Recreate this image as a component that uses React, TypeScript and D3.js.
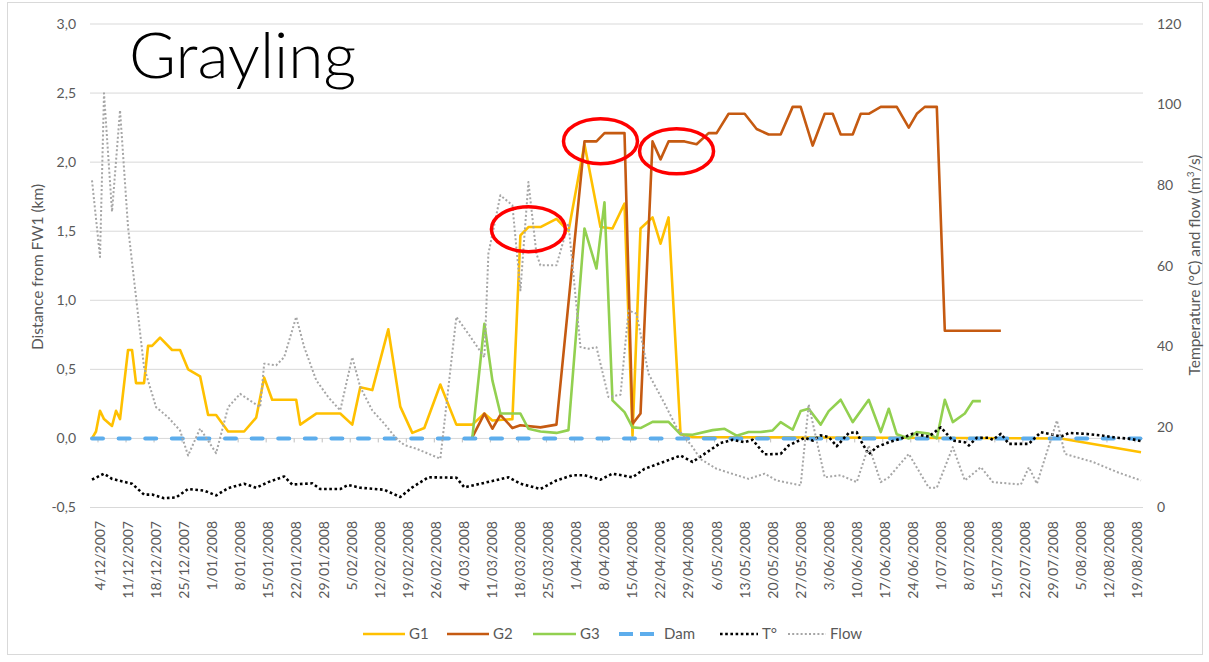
import React from "react";
import * as d3 from "d3";

// ---------- data ----------
type P = [string, number];

const G1: P[] = [
  ["2007-12-02", 0.0], ["2007-12-03", 0.05], ["2007-12-04", 0.2], ["2007-12-05", 0.14],
  ["2007-12-07", 0.09], ["2007-12-08", 0.2], ["2007-12-09", 0.14], ["2007-12-11", 0.64],
  ["2007-12-12", 0.64], ["2007-12-13", 0.4], ["2007-12-15", 0.4], ["2007-12-16", 0.67],
  ["2007-12-17", 0.67], ["2007-12-19", 0.73], ["2007-12-22", 0.64], ["2007-12-24", 0.64],
  ["2007-12-26", 0.5], ["2007-12-29", 0.45], ["2007-12-31", 0.17], ["2008-01-02", 0.17],
  ["2008-01-05", 0.05], ["2008-01-09", 0.05], ["2008-01-12", 0.15], ["2008-01-14", 0.44],
  ["2008-01-16", 0.28], ["2008-01-22", 0.28], ["2008-01-23", 0.1], ["2008-01-27", 0.18],
  ["2008-02-02", 0.18], ["2008-02-05", 0.1], ["2008-02-07", 0.37], ["2008-02-10", 0.35],
  ["2008-02-14", 0.79], ["2008-02-17", 0.23], ["2008-02-20", 0.04], ["2008-02-23", 0.075],
  ["2008-02-27", 0.39], ["2008-03-02", 0.1], ["2008-03-06", 0.1], ["2008-03-09", 0.18],
  ["2008-03-11", 0.13], ["2008-03-16", 0.14], ["2008-03-18", 1.47], ["2008-03-20", 1.53],
  ["2008-03-23", 1.53], ["2008-03-27", 1.59], ["2008-03-30", 1.5], ["2008-04-03", 2.13],
  ["2008-04-07", 1.53], ["2008-04-10", 1.52], ["2008-04-13", 1.7], ["2008-04-15", 0.02],
  ["2008-04-17", 1.52], ["2008-04-20", 1.6], ["2008-04-22", 1.41], ["2008-04-24", 1.6],
  ["2008-04-27", 0.03], ["2008-04-30", 0.01], ["2008-07-31", 0.0], ["2008-08-20", -0.1],
];

const G2: P[] = [
  ["2008-03-06", 0.01], ["2008-03-09", 0.18], ["2008-03-11", 0.07], ["2008-03-13", 0.17],
  ["2008-03-16", 0.075], ["2008-03-18", 0.095], ["2008-03-23", 0.08], ["2008-03-27", 0.1],
  ["2008-04-03", 2.15], ["2008-04-06", 2.15], ["2008-04-08", 2.21], ["2008-04-13", 2.21],
  ["2008-04-15", 0.105], ["2008-04-17", 0.18], ["2008-04-20", 2.15], ["2008-04-22", 2.02],
  ["2008-04-24", 2.15], ["2008-04-28", 2.15], ["2008-05-01", 2.13], ["2008-05-04", 2.21],
  ["2008-05-06", 2.21], ["2008-05-09", 2.35], ["2008-05-13", 2.35], ["2008-05-16", 2.24],
  ["2008-05-19", 2.2], ["2008-05-22", 2.2], ["2008-05-25", 2.4], ["2008-05-27", 2.4],
  ["2008-05-30", 2.12], ["2008-06-02", 2.35], ["2008-06-04", 2.35], ["2008-06-06", 2.2],
  ["2008-06-09", 2.2], ["2008-06-11", 2.35], ["2008-06-13", 2.35], ["2008-06-16", 2.4],
  ["2008-06-20", 2.4], ["2008-06-23", 2.25], ["2008-06-25", 2.35], ["2008-06-27", 2.4],
  ["2008-06-30", 2.4], ["2008-07-02", 0.78], ["2008-07-16", 0.78],
];

const G3: P[] = [
  ["2008-03-06", 0.01], ["2008-03-09", 0.83], ["2008-03-11", 0.42], ["2008-03-13", 0.18],
  ["2008-03-18", 0.18], ["2008-03-20", 0.07], ["2008-03-23", 0.05], ["2008-03-27", 0.04],
  ["2008-03-30", 0.06], ["2008-04-03", 1.52], ["2008-04-06", 1.23], ["2008-04-08", 1.71],
  ["2008-04-10", 0.275], ["2008-04-13", 0.19], ["2008-04-15", 0.08], ["2008-04-17", 0.075],
  ["2008-04-20", 0.12], ["2008-04-24", 0.12], ["2008-04-27", 0.03], ["2008-04-30", 0.027],
  ["2008-05-05", 0.06], ["2008-05-08", 0.07], ["2008-05-11", 0.02], ["2008-05-14", 0.046],
  ["2008-05-17", 0.046], ["2008-05-20", 0.058], ["2008-05-22", 0.118], ["2008-05-25", 0.063],
  ["2008-05-27", 0.198], ["2008-05-29", 0.215], ["2008-06-01", 0.1], ["2008-06-03", 0.198],
  ["2008-06-06", 0.28], ["2008-06-09", 0.118], ["2008-06-13", 0.28], ["2008-06-16", 0.046],
  ["2008-06-18", 0.215], ["2008-06-20", 0.03], ["2008-06-23", 0.0], ["2008-06-25", 0.046],
  ["2008-06-28", 0.035], ["2008-06-30", 0.0], ["2008-07-02", 0.28], ["2008-07-04", 0.118],
  ["2008-07-07", 0.18], ["2008-07-09", 0.27], ["2008-07-11", 0.27],
];

const DAM: P[] = [["2007-12-02", 0], ["2008-08-20", 0]];

const TEMP: P[] = [
  ["2007-12-02", 6.9], ["2007-12-05", 8.4], ["2007-12-07", 7.1], ["2007-12-12", 5.9],
  ["2007-12-15", 3.2], ["2007-12-17", 3.2], ["2007-12-20", 2.3], ["2007-12-23", 2.5],
  ["2007-12-26", 4.6], ["2007-12-30", 4.2], ["2008-01-02", 3.0], ["2008-01-05", 4.8],
  ["2008-01-09", 5.9], ["2008-01-12", 4.9], ["2008-01-15", 6.3], ["2008-01-19", 7.7],
  ["2008-01-21", 5.7], ["2008-01-26", 6.0], ["2008-01-28", 4.6], ["2008-02-02", 4.6],
  ["2008-02-04", 5.6], ["2008-02-07", 4.9], ["2008-02-13", 4.4], ["2008-02-17", 2.6],
  ["2008-02-20", 5.0], ["2008-02-24", 7.5], ["2008-03-02", 7.4], ["2008-03-04", 5.0],
  ["2008-03-08", 5.9], ["2008-03-15", 7.5], ["2008-03-18", 5.9], ["2008-03-23", 4.6],
  ["2008-03-27", 6.7], ["2008-03-31", 8.0], ["2008-04-03", 8.0], ["2008-04-07", 6.9],
  ["2008-04-10", 8.4], ["2008-04-15", 7.5], ["2008-04-18", 9.6], ["2008-04-23", 11.4],
  ["2008-04-27", 12.9], ["2008-04-30", 11.3], ["2008-05-04", 14.0], ["2008-05-07", 16.0],
  ["2008-05-10", 16.8], ["2008-05-13", 16.2], ["2008-05-15", 16.8], ["2008-05-18", 13.2],
  ["2008-05-22", 13.3], ["2008-05-24", 15.4], ["2008-05-28", 17.3], ["2008-05-30", 16.6],
  ["2008-06-01", 17.9], ["2008-06-03", 17.5], ["2008-06-05", 15.2], ["2008-06-08", 18.5],
  ["2008-06-10", 18.7], ["2008-06-11", 16.6], ["2008-06-13", 13.2], ["2008-06-15", 15.0],
  ["2008-06-18", 16.2], ["2008-06-21", 17.1], ["2008-06-24", 18.3], ["2008-06-28", 17.6],
  ["2008-07-01", 19.9], ["2008-07-04", 16.6], ["2008-07-07", 16.2], ["2008-07-08", 15.4],
  ["2008-07-10", 17.3], ["2008-07-13", 17.3], ["2008-07-14", 16.8], ["2008-07-16", 18.3],
  ["2008-07-18", 15.8], ["2008-07-23", 15.8], ["2008-07-24", 16.8], ["2008-07-26", 18.7],
  ["2008-07-28", 18.3], ["2008-07-31", 17.6], ["2008-08-02", 18.5], ["2008-08-06", 18.3],
  ["2008-08-10", 17.9], ["2008-08-14", 17.3], ["2008-08-17", 17.1], ["2008-08-20", 16.5],
];

const FLOW: P[] = [
  ["2007-12-02", 81.2], ["2007-12-04", 62.2], ["2007-12-05", 102.8], ["2007-12-07", 73.4],
  ["2007-12-09", 98.6], ["2007-12-11", 69.6], ["2007-12-13", 52.2], ["2007-12-15", 34.8],
  ["2007-12-18", 24.9], ["2007-12-21", 22.4], ["2007-12-24", 19.1], ["2007-12-26", 12.9],
  ["2007-12-29", 19.6], ["2008-01-02", 13.5], ["2008-01-05", 24.9], ["2008-01-08", 28.2],
  ["2008-01-11", 26.2], ["2008-01-13", 24.9], ["2008-01-14", 35.7], ["2008-01-17", 35.3],
  ["2008-01-19", 37.3], ["2008-01-22", 47.3], ["2008-01-24", 39.8], ["2008-01-27", 31.6],
  ["2008-01-30", 27.4], ["2008-02-02", 24.1], ["2008-02-05", 37.3], ["2008-02-07", 29.9],
  ["2008-02-10", 24.1], ["2008-02-13", 20.8], ["2008-02-16", 17.1], ["2008-02-18", 15.5],
  ["2008-02-21", 14.6], ["2008-02-27", 12.1], ["2008-03-02", 47.3], ["2008-03-05", 43.1],
  ["2008-03-09", 37.3], ["2008-03-10", 63.0], ["2008-03-13", 77.5], ["2008-03-16", 75.0],
  ["2008-03-18", 53.9], ["2008-03-20", 80.8], ["2008-03-22", 63.0], ["2008-03-23", 60.1],
  ["2008-03-27", 60.1], ["2008-03-30", 70.5], ["2008-04-02", 39.8], ["2008-04-04", 39.4],
  ["2008-04-06", 39.8], ["2008-04-09", 27.4], ["2008-04-12", 28.0], ["2008-04-14", 48.9],
  ["2008-04-16", 48.1], ["2008-04-19", 33.2], ["2008-04-23", 25.8], ["2008-04-26", 19.9],
  ["2008-04-30", 15.0], ["2008-05-02", 12.0], ["2008-05-06", 9.6], ["2008-05-14", 7.1],
  ["2008-05-18", 8.4], ["2008-05-21", 6.7], ["2008-05-27", 5.5], ["2008-05-29", 25.6],
  ["2008-06-02", 7.5], ["2008-06-06", 8.0], ["2008-06-10", 6.3], ["2008-06-13", 15.4],
  ["2008-06-16", 6.3], ["2008-06-18", 7.5], ["2008-06-23", 13.3], ["2008-06-28", 4.9],
  ["2008-06-30", 4.9], ["2008-07-04", 15.0], ["2008-07-07", 6.7], ["2008-07-11", 10.0],
  ["2008-07-14", 6.3], ["2008-07-21", 5.7], ["2008-07-23", 10.0], ["2008-07-25", 5.9],
  ["2008-07-30", 21.6], ["2008-08-01", 13.3], ["2008-08-08", 11.3], ["2008-08-14", 8.8],
  ["2008-08-20", 6.7],
];

const X_TICKS = [
  "4/12/2007", "11/12/2007", "18/12/2007", "25/12/2007", "1/01/2008", "8/01/2008",
  "15/01/2008", "22/01/2008", "29/01/2008", "5/02/2008", "12/02/2008", "19/02/2008",
  "26/02/2008", "4/03/2008", "11/03/2008", "18/03/2008", "25/03/2008", "1/04/2008",
  "8/04/2008", "15/04/2008", "22/04/2008", "29/04/2008", "6/05/2008", "13/05/2008",
  "20/05/2008", "27/05/2008", "3/06/2008", "10/06/2008", "17/06/2008", "24/06/2008",
  "1/07/2008", "8/07/2008", "15/07/2008", "22/07/2008", "29/07/2008", "5/08/2008",
  "12/08/2008", "19/08/2008",
];
const LEFT_TICKS = [-0.5, 0, 0.5, 1, 1.5, 2, 2.5, 3];
const RIGHT_TICKS = [0, 20, 40, 60, 80, 100, 120];

// annotation ellipses: [date, distance]
const CIRCLES: P[] = [["2008-03-20", 1.515], ["2008-04-07", 2.152], ["2008-04-26", 2.079]];

const LEGEND = ["G1", "G2", "G3", "Dam", "T°", "Flow"];

// ---------- drawing ----------
const FONT = "Lato, 'Open Sans', sans-serif";
const GRAY_TXT = "#595959";
const parseIso = d3.timeParse("%Y-%m-%d");
const parseTick = d3.timeParse("%d/%m/%Y");
const locale = d3.formatLocale({ decimal: ",", thousands: ".", grouping: [3], currency: ["", ""], minus: "-" });
const fmtL = locale.format(".1f");

type Style = { color: string; width: number; dash?: string; cap?: "butt" | "round" };
const STYLES: Record<string, Style> = {
  G1: { color: "#FFC000", width: 2.6 },
  G2: { color: "#C55A11", width: 2.6 },
  G3: { color: "#92D050", width: 2.6 },
  Dam: { color: "#5DADEC", width: 4, dash: "11 15.6", cap: "round" },
  "T°": { color: "#000000", width: 2.6, dash: "2.6 2.6" },
  Flow: { color: "#A6A6A6", width: 2, dash: "2 2.2" },
};

export default function App() {
  React.useEffect(() => {
    document.body.style.margin = "0";
  }, []);

  const x = d3.scaleTime()
    .domain([new Date(2007, 11, 1, 12), new Date(2008, 7, 20, 12)])
    .range([90, 1143]);
  const yL = d3.scaleLinear().domain([-0.5, 3]).range([507.5, 24]);
  const yR = d3.scaleLinear().domain([0, 120]).range([507.5, 24]);

  const mk = (y: d3.ScaleLinear<number, number>) =>
    d3.line<P>().x((d) => x(parseIso(d[0])!)).y((d) => y(d[1]));
  const lineL = mk(yL);
  const lineR = mk(yR);

  const series: { name: string; data: P[]; line: d3.Line<P> }[] = [
    { name: "G1", data: G1, line: lineL },
    { name: "G2", data: G2, line: lineL },
    { name: "G3", data: G3, line: lineL },
    { name: "Dam", data: DAM, line: lineL },
    { name: "T°", data: TEMP, line: lineR },
    { name: "Flow", data: FLOW, line: lineR },
  ];

  const tickDates = X_TICKS.map((t) => parseTick(t)!);
  const legendX = [363, 447, 533, 619, 720, 788];
  const legendTextX = [409, 493, 580, 664, 762, 830];

  return (
    <svg width={1209} height={662} style={{ position: "absolute", left: 0, top: 0, background: "#fff" }}
      fontFamily={FONT}>
      <rect x={0} y={0} width={1209} height={662} fill="#fff" />
      <rect x={7.5} y={2.5} width={1195} height={652} fill="none" stroke="#d9d9d9" strokeWidth={1} />

      {/* gridlines */}
      {LEFT_TICKS.map((t) => (
        <line key={"g" + t} x1={90} x2={1143} y1={yL(t)} y2={yL(t)} stroke="#d9d9d9" strokeWidth={1} />
      ))}
      {/* horizontal axis ticks at 0 */}
      {tickDates.map((d, i) => (
        <line key={"tk" + i} x1={x(d3.timeHour.offset(d, -12))} x2={x(d3.timeHour.offset(d, -12))}
          y1={yL(0)} y2={yL(0) + 4} stroke="#bfbfbf" strokeWidth={1} />
      ))}

      {/* left tick labels */}
      {LEFT_TICKS.map((t) => (
        <text key={"l" + t} x={76} y={yL(t)} dy="0.35em" textAnchor="end" fontSize={14} fill={GRAY_TXT}>
          {fmtL(t)}
        </text>
      ))}
      {/* right tick labels */}
      {RIGHT_TICKS.map((t) => (
        <text key={"r" + t} x={1157} y={yR(t)} dy="0.35em" textAnchor="start" fontSize={14} fill={GRAY_TXT}>
          {t}
        </text>
      ))}
      {/* x tick labels */}
      {tickDates.map((d, i) => (
        <text key={"x" + i} transform={`translate(${x(d)},521) rotate(-90)`} dy="0.35em" textAnchor="end"
          fontSize={14} fill={GRAY_TXT}>
          {X_TICKS[i]}
        </text>
      ))}

      {/* axis titles */}
      <text transform="translate(38,267) rotate(-90)" dy="0.35em" textAnchor="middle" fontSize={15.5} fill={GRAY_TXT}>
        Distance from FW1 (km)
      </text>
      <text transform="translate(1195,265) rotate(-90)" dy="0.35em" textAnchor="middle" fontSize={15.5} fill={GRAY_TXT}>
        Temperature (°C) and flow (m<tspan baselineShift="super" fontSize={10}>3</tspan>/s)
      </text>

      {/* series */}
      {series.map((s) => {
        const st = STYLES[s.name];
        return (
          <path key={s.name} d={s.line(s.data) ?? ""} fill="none" stroke={st.color} strokeWidth={st.width}
            strokeDasharray={st.dash} strokeLinecap={st.cap ?? "butt"} strokeLinejoin="round" />
        );
      })}

      {/* red annotation ellipses */}
      {CIRCLES.map((c, i) => (
        <ellipse key={"c" + i} cx={x(parseIso(c[0])!)} cy={yL(c[1])} rx={37} ry={22.5}
          fill="none" stroke="#FF0000" strokeWidth={3.5} />
      ))}

      {/* title */}
      <text x={129} y={78} fontSize={64} fontWeight={300} fill="#000">Grayling</text>

      {/* legend */}
      {LEGEND.map((name, i) => {
        const st = STYLES[name];
        const x0 = legendX[i];
        const x1 = legendTextX[i] - 4;
        return (
          <g key={"lg" + name}>
            <line x1={x0} x2={x1} y1={634} y2={634} stroke={st.color} strokeWidth={st.width}
              strokeDasharray={name === "Dam" ? "14 7" : st.dash} strokeLinecap="butt" />
            <text x={legendTextX[i]} y={634} dy="0.35em" fontSize={15} fill={GRAY_TXT}>{name}</text>
          </g>
        );
      })}
    </svg>
  );
}
